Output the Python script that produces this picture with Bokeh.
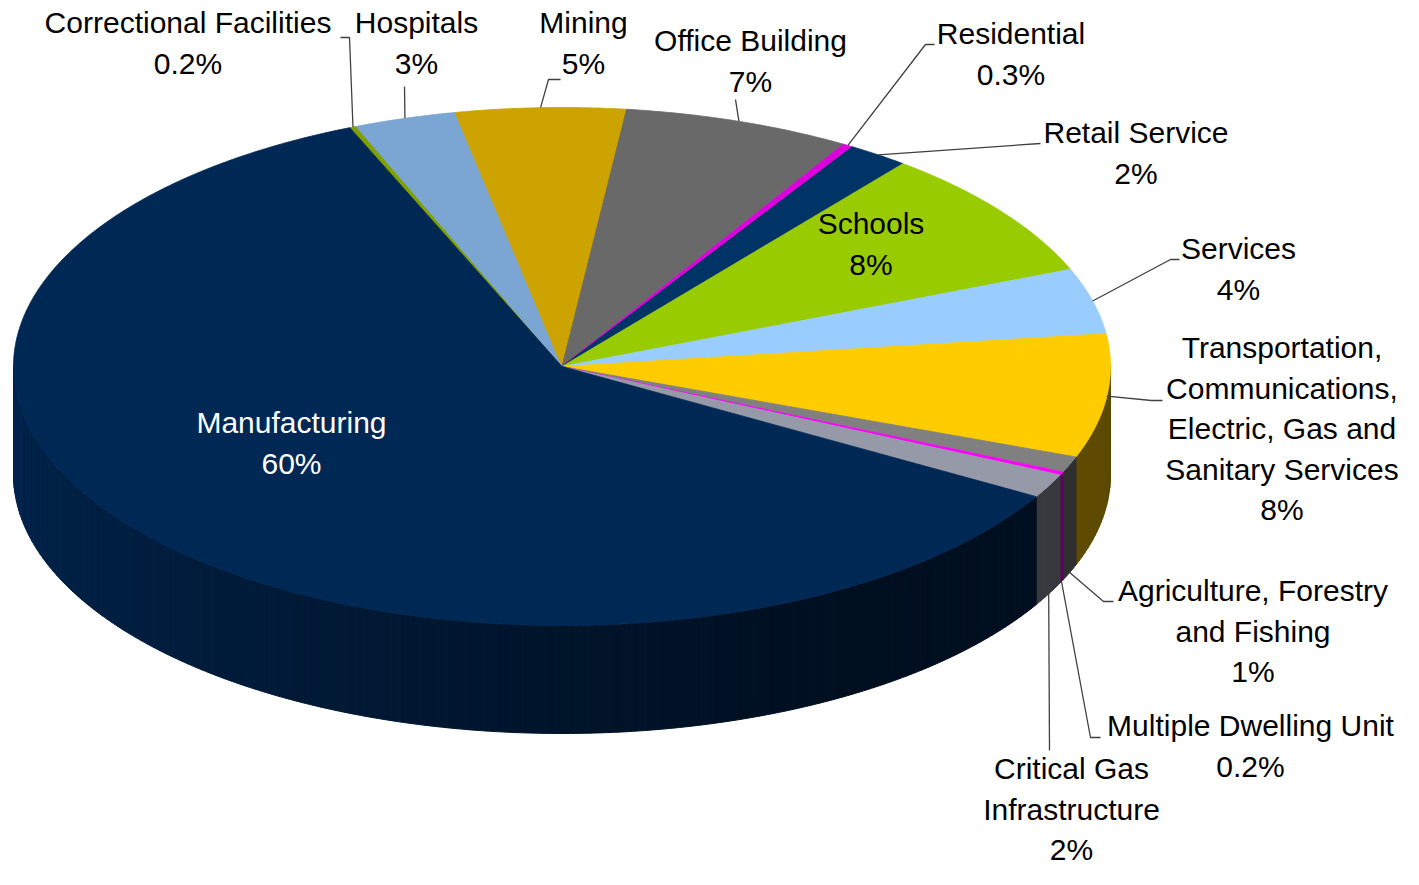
import math
import numpy as np
from bokeh.plotting import figure
from bokeh.models import Range1d, ColumnDataSource
from bokeh.embed import file_html
from bokeh.resources import INLINE
from bokeh.core.properties import value

# ---------------- data ----------------
categories = [
    "Correctional Facilities", "Hospitals", "Mining", "Office Building",
    "Residential", "Retail Service", "Schools", "Services",
    "Transportation, Communications, Electric, Gas and Sanitary Services",
    "Agriculture, Forestry and Fishing", "Multiple Dwelling Unit",
    "Critical Gas Infrastructure", "Manufacturing",
]
shares = [0.2, 3.0, 5.0, 6.7, 0.3, 1.8, 8.2, 4.1, 7.7, 1.0, 0.2, 1.5, 60.3]
pct_labels = ["0.2%", "3%", "5%", "7%", "0.3%", "2%", "8%", "4%", "8%",
              "1%", "0.2%", "2%", "60%"]
label_lines = [
    ["Correctional Facilities"], ["Hospitals"], ["Mining"], ["Office Building"],
    ["Residential"], ["Retail Service"], ["Schools"], ["Services"],
    ["Transportation,", "Communications,", "Electric, Gas and", "Sanitary Services"],
    ["Agriculture, Forestry", "and Fishing"], ["Multiple Dwelling Unit"],
    ["Critical Gas", "Infrastructure"], ["Manufacturing"],
]
colors = ["#80A000", "#7BA5D2", "#CCA300", "#696969", "#DD00DD", "#003366",
          "#99CC00", "#99CCFF", "#FFCC00", "#808080", "#FF00FF", "#969AA8",
          "#002855"]
label_colors = ["black"] * 12 + ["white"]

# ---------------- layout / style ----------------
W, H = 1403, 869
CX, CY, RX, RY, DEPTH = 561.5, 366.0, 548.5, 259.0, 108.0
START = -22.76
FONT = "Liberation Sans"
FONT_SIZE = "30px"
LINE_STEP = 40.5
TEXT_SHIFT = -10.0   # compensates the renderer's baseline placement
label_pos = [(187.5, 32), (416, 32), (583, 32), (750, 50), (1010.5, 43),
             (1135.5, 142), (870.5, 233), (1238, 258), (1281.5, 357),
             (1252.5, 600), (1250, 735), (1071, 778), (291, 432)]
leader_elbows = {0: [(349, 37), (340, 37)], 1: [(404, 86)],
                 2: [(548, 79), (560, 79)], 3: [(735, 99)],
                 4: [(925, 44), (934, 44)], 5: [(1040, 143)],
                 7: [(1170, 259), (1179, 259)], 8: [(1151, 400), (1162, 400)],
                 9: [(1103, 601), (1113, 601)], 10: [(1090, 737), (1100, 737)],
                 11: [(1049, 750)]}


def hex_rgb(h):
    h = h.lstrip("#")
    return tuple(int(h[i:i + 2], 16) for i in (0, 2, 4))


def shade(h, f):
    r, g, b = hex_rgb(h)
    return "#%02x%02x%02x" % tuple(max(0, min(255, int(round(c * f)))) for c in (r, g, b))


def side_factor(theta):
    return float(np.interp(theta, [90, 150, 180, 200, 240, 270],
                           [0.36, 0.38, 0.50, 0.60, 0.78, 0.90]))


def arc(a0, a1, drop=0.0, step=0.5):
    n = max(2, int(math.ceil(abs(a1 - a0) / step)) + 1)
    t = np.radians(np.linspace(a0, a1, n))
    return list(CX + RX * np.sin(t)), list(CY - RY * np.cos(t) + drop)


total = float(sum(shares))
angles = [s / total * 360.0 for s in shares]
starts, ends = [], []
a = START
for d in angles:
    starts.append(a)
    ends.append(a + d)
    a += d

p = figure(width=W, height=H, x_range=Range1d(0, W), y_range=Range1d(H, 0),
           output_backend="svg", toolbar_location=None, min_border=0,
           x_axis_location=None, y_axis_location=None)
p.grid.visible = False
p.outline_line_color = None
p.background_fill_color = "white"
p.border_fill_color = "white"

# ---- side faces (visible front half) ----
sx, sy, sc = [], [], []
for i in range(len(shares)):
    a0 = max(starts[i], 90.0)
    a1 = min(ends[i], 270.0)
    if a1 <= a0:
        continue
    nstrip = max(1, int(math.ceil((a1 - a0) / 1.0)))
    edges = np.linspace(a0, a1, nstrip + 1)
    for k in range(nstrip):
        tx, ty = arc(edges[k], edges[k + 1])
        bx, by = arc(edges[k + 1], edges[k], drop=DEPTH)
        sx.append(tx + bx)
        sy.append(ty + by)
        sc.append(shade(colors[i], side_factor(0.5 * (edges[k] + edges[k + 1]))))
side_src = ColumnDataSource(dict(xs=sx, ys=sy, c=sc))
p.patches("xs", "ys", source=side_src, fill_color="c", line_color="c", line_width=1)

# ---- top faces ----
tx_all, ty_all = [], []
for i in range(len(shares)):
    ax, ay = arc(starts[i], ends[i])
    tx_all.append([CX] + ax)
    ty_all.append([CY] + ay)
top_src = ColumnDataSource(dict(xs=tx_all, ys=ty_all, c=colors, name=categories))
p.patches("xs", "ys", source=top_src, fill_color="c", line_color="c", line_width=0.8)

# ---- leader lines ----
lx, ly = [], []
for i, elbows in leader_elbows.items():
    mid = 0.5 * (starts[i] + ends[i])
    t = math.radians(mid)
    x0 = CX + RX * math.sin(t)
    y0 = CY - RY * math.cos(t)
    if mid > 100:
        y0 += DEPTH
    lx.append([x0] + [e[0] for e in elbows])
    ly.append([y0] + [e[1] for e in elbows])
p.multi_line(lx, ly, line_color="#404040", line_width=1.3)

# ---- labels ----
txt_x, txt_y, txt, txt_c = [], [], [], []
for i in range(len(shares)):
    lines = label_lines[i] + [pct_labels[i]]
    x0, y0 = label_pos[i]
    for k, s in enumerate(lines):
        txt_x.append(x0)
        txt_y.append(y0 + k * LINE_STEP + TEXT_SHIFT)
        txt.append(s)
        txt_c.append(label_colors[i])
lab_src = ColumnDataSource(dict(x=txt_x, y=txt_y, t=txt, c=txt_c))
p.text("x", "y", text="t", source=lab_src, text_color="c",
       text_font=value(FONT), text_font_size=value(FONT_SIZE),
       text_align="center", text_baseline="alphabetic")

open("out.html", "w").write(file_html(p, INLINE))
